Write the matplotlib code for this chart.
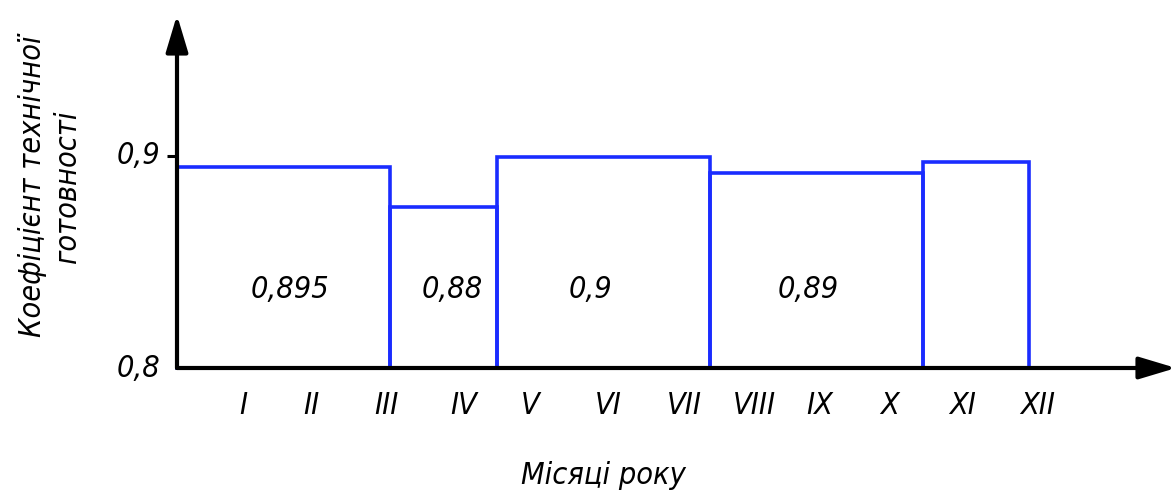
import matplotlib
matplotlib.use("Agg")
import matplotlib.pyplot as plt

# періоди (межі у місяцях від початку осі) та коефіцієнт технічної готовності
period_left = [0, 2, 3, 5, 7]
period_width = [2, 1, 2, 2, 1]
kt_values = [0.895, 0.876, 0.8995, 0.892, 0.897]
value_labels = ["0,895", "0,88", "0,9", "0,89", ""]
value_label_x = [1.06, 2.58, 3.88, 5.93, 7.5]

months = ["I", "II", "III", "IV", "V", "VI", "VII", "VIII", "IX", "X", "XI", "XII"]
month_x = [0.62, 1.26, 1.97, 2.69, 3.32, 4.05, 4.76, 5.42, 6.03, 6.69, 7.38, 8.08]

ymin, ymax = 0.8, 0.9665
xmax = 9.38

font = dict(family="DejaVu Sans", style="italic", stretch="condensed")
blue = "#1a2cff"

fig = plt.figure(figsize=(11.76, 4.95), dpi=100)
ax = fig.add_axes([177 / 1176, 127 / 495, 999 / 1176, 353 / 495])
ax.set_xlim(0, xmax)
ax.set_ylim(ymin, ymax)
for s in ax.spines.values():
    s.set_visible(False)

bars = ax.bar(period_left, [v - ymin for v in kt_values], width=period_width,
              bottom=ymin, align="edge", fill=False, edgecolor=blue, linewidth=2.6,
              clip_on=False, zorder=2)

for x, t in zip(value_label_x, value_labels):
    ax.text(x, 0.8368, t, ha="center", va="center", fontsize=22, **font)

# осі зі стрілками
arrow = dict(arrowstyle="-|>,head_length=1.5,head_width=0.45", lw=3, color="k",
             mutation_scale=15, shrinkA=0, shrinkB=0)
ax.annotate("", xy=(0, 1), xytext=(0, 0), xycoords="axes fraction", arrowprops=arrow,
            zorder=5)
ax.annotate("", xy=(1, 0), xytext=(0, 0), xycoords="axes fraction", arrowprops=arrow,
            zorder=5)

ax.set_yticks([0.9])
ax.set_yticklabels([])
ax.tick_params(axis="y", length=7, width=2.2, direction="out", color="k")
ax.set_xticks([])

ax.text(-0.16, 0.9, "0,9", ha="right", va="center", fontsize=22, **font)
ax.text(-0.16, 0.8, "0,8", ha="right", va="center", fontsize=22, **font)

for x, m in zip(month_x, months):
    ax.text(x, 0.7825, m, ha="center", va="center", fontsize=22, **font)

fig.text(603 / 1176, 1 - 475 / 495, "Місяці року", ha="center", va="center",
         fontsize=22, **font)
fig.text(50 / 1176, 1 - 186 / 495, "Коефіцієнт технічної\nготовності", ha="center",
         va="center", rotation=90, fontsize=22, linespacing=1.3, **font)

fig.savefig("out.png", dpi=100)
